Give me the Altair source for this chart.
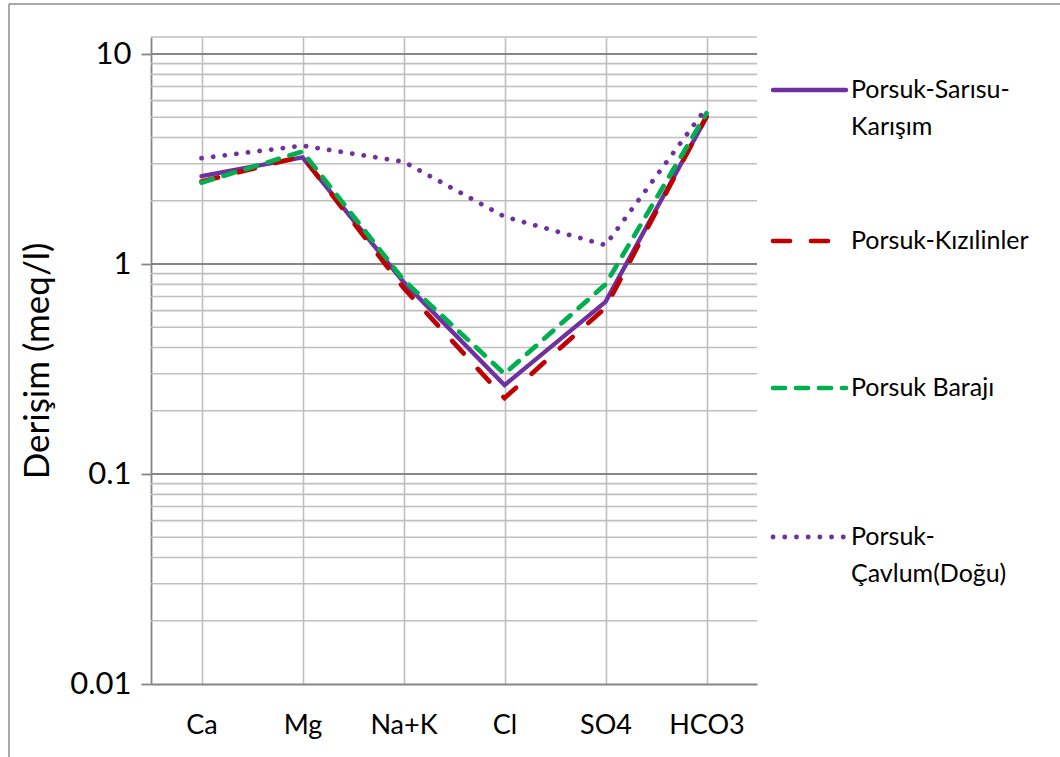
import altair as alt
import pandas as pd

# ---------------- data ----------------
ions = ["Ca", "Mg", "Na+K", "Cl", "SO4", "HCO3"]
series_names = ["Porsuk-Sarısu-Karışım", "Porsuk-Kızılinler", "Porsuk Barajı", "Porsuk-Çavlum(Doğu)"]
sarisu = [2.62, 3.22, 0.82, 0.265, 0.66, 5.0]
kizilinler = [2.47, 3.26, 0.77, 0.23, 0.62, 5.05]
baraji = [2.44, 3.43, 0.84, 0.30, 0.80, 5.22]
cavlum = [3.19, 3.66, 3.07, 1.68, 1.23, 5.55]
major_ticks = [0.01, 0.1, 1, 10]
minor_ticks = [0.02, 0.03, 0.04, 0.05, 0.06, 0.07, 0.08, 0.09,
               0.2, 0.3, 0.4, 0.5, 0.6, 0.7, 0.8, 0.9,
               2, 3, 4, 5, 6, 7, 8, 9]
y_title = "Derişim (meq/l)"

# ---------------- layout ----------------
FONT = "Lato"
W, H = 606, 647
PAD_L, PAD_T = 151, 37
Y_DOMAIN = [0.01, 12.05]

rows = []
for name, vals in zip(series_names, [sarisu, kizilinler, baraji, cavlum]):
    for ion, v in zip(ions, vals):
        rows.append({"ion": ion, "series": name, "value": v})
df = pd.DataFrame(rows)

xscale = alt.Scale(type="point", domain=ions, padding=0.5)
yscale = alt.Scale(type="log", domain=Y_DOMAIN, nice=False)

GRID_MINOR = "#BFBFBF"
GRID_MAJOR = "#868686"

x_axis = alt.Axis(
    title=None, grid=True, gridColor=GRID_MINOR, gridWidth=1.6,
    ticks=False, domainColor=GRID_MAJOR, domainWidth=1.8,
    labelFont=FONT, labelFontSize=27, labelColor="#000000",
    labelBaseline="middle", labelPadding=41, labelAngle=0)
y_axis = alt.Axis(
    values=major_ticks, format="~g", grid=False,
    domainColor=GRID_MAJOR, domainWidth=1.8,
    tickColor=GRID_MAJOR, tickWidth=1.8, tickSize=10,
    labelFont=FONT, labelFontSize=31, labelColor="#000000", labelPadding=10,
    title=y_title, titleFont=FONT, titleFontSize=35, titleFontWeight="normal",
    titleColor="#000000", titleAngle=270, titleX=37 - PAD_L, titleY=H / 2,
    titleAlign="center", titleBaseline="middle")

def X(field):
    return alt.X(field, scale=xscale, sort=ions, axis=x_axis, title=None)

def Y(field):
    return alt.Y(field, scale=yscale, axis=y_axis, title=y_title)

# horizontal gridlines
minor = alt.Chart(pd.DataFrame({"value": minor_ticks})).mark_rule(
    color=GRID_MINOR, strokeWidth=1.6
).encode(y=Y("value:Q"), x=alt.value(0), x2=alt.value(W))
major = alt.Chart(pd.DataFrame({"value": major_ticks[1:]})).mark_rule(
    color=GRID_MAJOR, strokeWidth=1.8
).encode(y=Y("value:Q"), x=alt.value(0), x2=alt.value(W))
top_line = alt.Chart(pd.DataFrame({"v": [0]})).mark_rule(
    color=GRID_MINOR, strokeWidth=1.6
).encode(y=alt.value(0), x=alt.value(0), x2=alt.value(W))

# outer frame (top and left edges of the chart area)
frame_top = alt.Chart(pd.DataFrame({"v": [0]})).mark_rule(
    color="#8C8C8C", strokeWidth=1.5
).encode(y=alt.value(4 - PAD_T), x=alt.value(9 - PAD_L), x2=alt.value(1060 - PAD_L))
frame_left = alt.Chart(pd.DataFrame({"v": [0]})).mark_rule(
    color="#8C8C8C", strokeWidth=1.5
).encode(x=alt.value(9 - PAD_L), y=alt.value(4 - PAD_T), y2=alt.value(757 - PAD_T + 5))

styles = [
    dict(color="#7030A0", strokeWidth=4.4, strokeCap="round"),
    dict(color="#C00000", strokeWidth=4.7, strokeCap="round", strokeDash=[17, 21]),
    dict(color="#00B050", strokeWidth=4.7, strokeCap="round", strokeDash=[12, 11]),
    dict(color="#7030A0", strokeWidth=4.8, strokeCap="round", strokeDash=[0.1, 11.6]),
]

lines = []
for name, st in zip(series_names, styles):
    lines.append(
        alt.Chart(df).transform_filter(alt.datum.series == name).mark_line(**st).encode(
            x=X("ion:N"), y=Y("value:Q"),
        )
    )

# manual legend
LEG_X1, LEG_X2, TXT_X = 773 - PAD_L, 846 - PAD_L, 851 - PAD_L
leg_rows = [
    (90, [("Porsuk-Sarısu-", 90), ("Karışım", 127)]),
    (241, [("Porsuk-Kızılinler", 241)]),
    (388, [("Porsuk Barajı", 388)]),
    (537, [("Porsuk-", 537), ("Çavlum(Doğu)", 574)]),
]
legend_layers = []
for (sym_y, texts), st in zip(leg_rows, styles):
    legend_layers.append(
        alt.Chart(pd.DataFrame({"v": [0]})).mark_rule(**st).encode(
            x=alt.value(LEG_X1), x2=alt.value(LEG_X2), y=alt.value(sym_y - PAD_T))
    )
    for txt, ty in texts:
        legend_layers.append(
            alt.Chart(pd.DataFrame({"t": [txt]})).mark_text(
                font=FONT, fontSize=25, align="left", baseline="middle", color="#000000"
            ).encode(text="t:N", x=alt.value(TXT_X), y=alt.value(ty - PAD_T))
        )

chart = alt.layer(
    frame_top, frame_left, minor, major, top_line, *lines, *legend_layers
).properties(
    width=W, height=H,
    padding={"left": PAD_L, "top": PAD_T, "right": 1060 - PAD_L - W, "bottom": 757 - PAD_T - H},
    autosize=alt.AutoSizeParams(type="none"),
    background="#FFFFFF",
).configure_view(stroke=None)

chart.save("out.html", embed_options={"renderer": "svg", "actions": False})
